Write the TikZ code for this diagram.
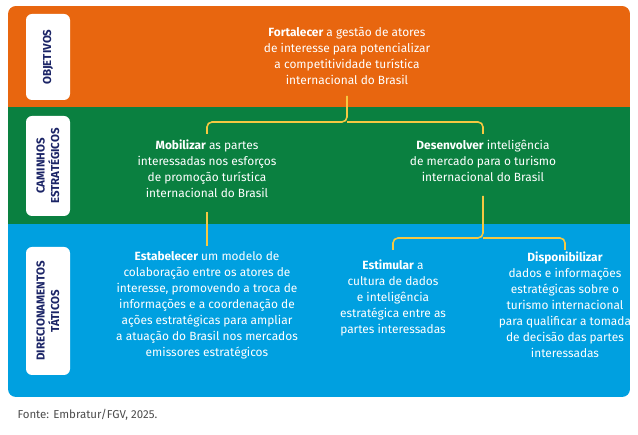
\documentclass[tikz,border=0pt]{standalone}
\usepackage{fontspec}
\setmainfont{Fira Sans}
\definecolor{cor}{HTML}{E8660F}
\definecolor{cgr}{HTML}{0A8040}
\definecolor{cbl}{HTML}{00A0E0}
\definecolor{cye}{HTML}{F5C842}
\definecolor{cnv}{HTML}{1B2466}
\begin{document}
\begin{tikzpicture}[x=1pt,y=-1pt,
  lab/.style={fill=white,rounded corners=6pt,minimum height=44pt,text=cnv,font=\fontsize{11.5}{14.5}\selectfont\bfseries,align=center,rotate=90,inner sep=0pt},
  txt/.style={text=white,align=center,font=\fontsize{11.9}{16}\selectfont},
  con/.style={draw=cye,line width=1.6pt,rounded corners=5pt}]
\useasboundingbox (0,0) rectangle (638,435);
\begin{scope}
\clip[rounded corners=8pt] (8,6) rectangle (630,397);
\fill[cor] (8,6) rectangle (630,107);
\fill[cgr] (8,107) rectangle (630,224);
\fill[cbl] (8,224) rectangle (630,397);
\end{scope}
\node[lab,minimum width=86pt] (l1) at (48,57) {OBJETIVOS};
\node[lab,minimum width=100pt] (l2) at (48,166) {CAMINHOS\\ESTRATÉGICOS};
\node[lab,minimum width=128pt] (l3) at (48,311) {DIRECIONAMENTOS\\TÁTICOS};
\node[txt] (o) at (347,56) {\textbf{Fortalecer} a gestão de atores\\de interesse para potencializar\\a competitividade turística\\internacional do Brasil};
\node[txt] (m) at (207,169) {\textbf{Mobilizar} as partes\\interessadas nos esforços\\de promoção turística\\internacional do Brasil};
\node[txt] (d) at (483,161) {\textbf{Desenvolver} inteligência\\de mercado para o turismo\\internacional do Brasil};
\node[txt] (e) at (207,305) {\textbf{Estabelecer} um modelo de\\colaboração entre os atores de\\interesse, promovendo a troca de\\informações e a coordenação de\\ações estratégicas para ampliar\\a atuação do Brasil nos mercados\\emissores estratégicos};
\node[txt] (s) at (393,298) {\textbf{Estimular} a\\cultura de dados\\e inteligência\\estratégica entre as\\partes interessadas};
\node[txt] (p) at (565,305) {\textbf{Disponibilizar}\\dados e informações\\estratégicas sobre o\\turismo internacional\\para qualificar a tomada\\de decisão das partes\\interessadas};
\coordinate (oa) at (347,96);
\coordinate (ma) at (207,134);
\coordinate (da) at (483,134);
\draw[con] (oa) -- (347,122) -| (ma);
\draw[con] (347,122) -| (da);
\draw[con] (207,212) -- (207,246);
\coordinate (dd) at (483,196);
\coordinate (sa) at (393,250);
\coordinate (pa) at (565,250);
\draw[con] (dd) -- (483,238) -| (sa);
\draw[con] (483,238) -| (pa);
\node[anchor=west,text=black!70,font=\fontsize{11.5}{13}\selectfont] (f) at (14,415) {Fonte: Embratur/FGV, 2025.};
\end{tikzpicture}
\end{document}
